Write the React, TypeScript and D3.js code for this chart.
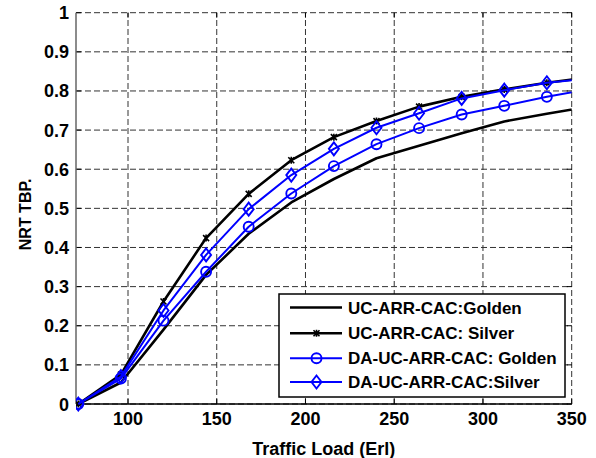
import React from "react";
import * as d3 from "d3";

const loads = [72, 96, 120, 144, 168, 192, 216, 240, 264, 288, 312, 336, 360];
const ucGolden = [0, 0.055, 0.19, 0.33, 0.435, 0.515, 0.575, 0.628, 0.66, 0.692, 0.722, 0.742, 0.76];
const ucSilver = [0, 0.075, 0.262, 0.424, 0.537, 0.623, 0.682, 0.723, 0.76, 0.785, 0.804, 0.821, 0.835];
const daGolden = [0, 0.065, 0.213, 0.338, 0.453, 0.538, 0.608, 0.664, 0.705, 0.74, 0.762, 0.785, 0.805];
const daSilver = [0, 0.07, 0.239, 0.381, 0.498, 0.585, 0.652, 0.706, 0.743, 0.781, 0.802, 0.821, 0.832];
const xTicks = [100, 150, 200, 250, 300, 350];
const yTicks = [0, 0.1, 0.2, 0.3, 0.4, 0.5, 0.6, 0.7, 0.8, 0.9, 1];
const seriesNames = ["UC-ARR-CAC:Golden", "UC-ARR-CAC: Silver", "DA-UC-ARR-CAC: Golden", "DA-UC-ARR-CAC:Silver"];

const W = 596, H = 458;
const L = 76, R = 571.7, T = 12.7, B = 404;
const FONT = "'Liberation Sans', Arial, Helvetica, sans-serif";

type Marker = "none" | "x" | "circle" | "diamond";

function MarkerShape({ kind, cx, cy, color }: { kind: Marker; cx: number; cy: number; color: string }) {
  if (kind === "circle") return <circle cx={cx} cy={cy} r={5} fill="none" stroke={color} strokeWidth={1.9} />;
  if (kind === "diamond")
    return (
      <path
        d={`M${cx},${cy - 6.5}L${cx + 5},${cy}L${cx},${cy + 6.5}L${cx - 5},${cy}Z`}
        fill="none"
        stroke={color}
        strokeWidth={1.9}
      />
    );
  if (kind === "x")
    return (
      <path
        d={`M${cx - 3},${cy - 3}L${cx + 3},${cy + 3}M${cx - 3},${cy + 3}L${cx + 3},${cy - 3}M${cx},${cy - 3.5}L${cx},${cy + 3.5}`}
        stroke={color}
        strokeWidth={1.6}
      />
    );
  return null;
}

export default function App() {
  const x = d3.scaleLinear().domain([70.7, 350]).range([L, R]);
  const y = d3.scaleLinear().domain([0, 1]).range([B, T]);
  const line = d3
    .line<number>()
    .x((_, i) => x(loads[i]))
    .y((d) => y(d));

  const series = [
    { name: seriesNames[0], values: ucGolden, color: "#000000", width: 2.6, marker: "none" as Marker },
    { name: seriesNames[1], values: ucSilver, color: "#000000", width: 2.6, marker: "x" as Marker },
    { name: seriesNames[2], values: daGolden, color: "#0000ff", width: 2, marker: "circle" as Marker },
    { name: seriesNames[3], values: daSilver, color: "#0000ff", width: 2, marker: "diamond" as Marker },
  ];

  const legX = 279, legY = 294, legW = 286, legH = 103;
  const rowYs = [307.5, 333.3, 358.3, 382];

  return (
    <svg width={W} height={H} style={{ position: "absolute", left: 0, top: 0, background: "#fff" }}>
      <defs>
        <clipPath id="plotClip">
          <rect x={L} y={T - 8} width={R - L} height={B - T + 16} />
        </clipPath>
      </defs>
      {xTicks.map((t) => (
        <line key={"gx" + t} x1={x(t)} x2={x(t)} y1={B} y2={T} stroke="#333" strokeWidth={1} strokeDasharray="6,3" />
      ))}
      {yTicks.map((t) => (
        <line key={"gy" + t} x1={L} x2={R} y1={y(t)} y2={y(t)} stroke="#333" strokeWidth={1} strokeDasharray="6,3" />
      ))}
      {xTicks.map((t) => (
        <g key={"tx" + t}>
          <line x1={x(t)} x2={x(t)} y1={B} y2={B - 5} stroke="#000" strokeWidth={1} />
          <line x1={x(t)} x2={x(t)} y1={T} y2={T + 5} stroke="#000" strokeWidth={1} />
        </g>
      ))}
      {yTicks.map((t) => (
        <g key={"ty" + t}>
          <line x1={L} x2={L + 5} y1={y(t)} y2={y(t)} stroke="#000" strokeWidth={1} />
          <line x1={R} x2={R - 5} y1={y(t)} y2={y(t)} stroke="#000" strokeWidth={1} />
        </g>
      ))}
      <line x1={L} x2={L} y1={T} y2={B} stroke="#666" strokeWidth={1.5} />
      <line x1={L} x2={R} y1={B} y2={B} stroke="#000" strokeWidth={1.5} />
      <g clipPath="url(#plotClip)">
        {series.map((s) => (
          <g key={s.name}>
            <path d={line(s.values) || ""} fill="none" stroke={s.color} strokeWidth={s.width} strokeLinejoin="round" />
            {s.values.map((v, i) => (
              <MarkerShape key={i} kind={s.marker} cx={x(loads[i])} cy={y(v)} color={s.color} />
            ))}
          </g>
        ))}
      </g>
      {xTicks.map((t) => (
        <text key={"lx" + t} x={x(t)} y={425} textAnchor="middle" fontFamily={FONT} fontWeight="bold" fontSize={18} fill="#000">
          {t}
        </text>
      ))}
      {yTicks.map((t) => (
        <text key={"ly" + t} x={69} y={y(t) + 6.5} textAnchor="end" fontFamily={FONT} fontWeight="bold" fontSize={18} fill="#000">
          {t}
        </text>
      ))}
      <text x={(L + R) / 2} y={455} textAnchor="middle" fontFamily={FONT} fontWeight="bold" fontSize={18} fill="#000">
        Traffic Load (Erl)
      </text>
      <text
        transform={`translate(31,${(T + B) / 2 + 6}) rotate(-90)`}
        textAnchor="middle"
        fontFamily={FONT}
        fontWeight="bold"
        fontSize={16}
        fill="#000"
      >
        NRT TBP.
      </text>
      <rect x={legX} y={legY} width={legW} height={legH} fill="#fff" stroke="#000" strokeWidth={1.5} />
      {series.map((s, i) => (
        <g key={"leg" + i}>
          <line x1={290} x2={342} y1={rowYs[i]} y2={rowYs[i]} stroke={s.color} strokeWidth={s.width} />
          <MarkerShape kind={s.marker} cx={316.5} cy={rowYs[i]} color={s.color} />
          <text x={348} y={rowYs[i] + 6} fontFamily={FONT} fontWeight="bold" fontSize={17} fill="#000">
            {s.name}
          </text>
        </g>
      ))}
    </svg>
  );
}
